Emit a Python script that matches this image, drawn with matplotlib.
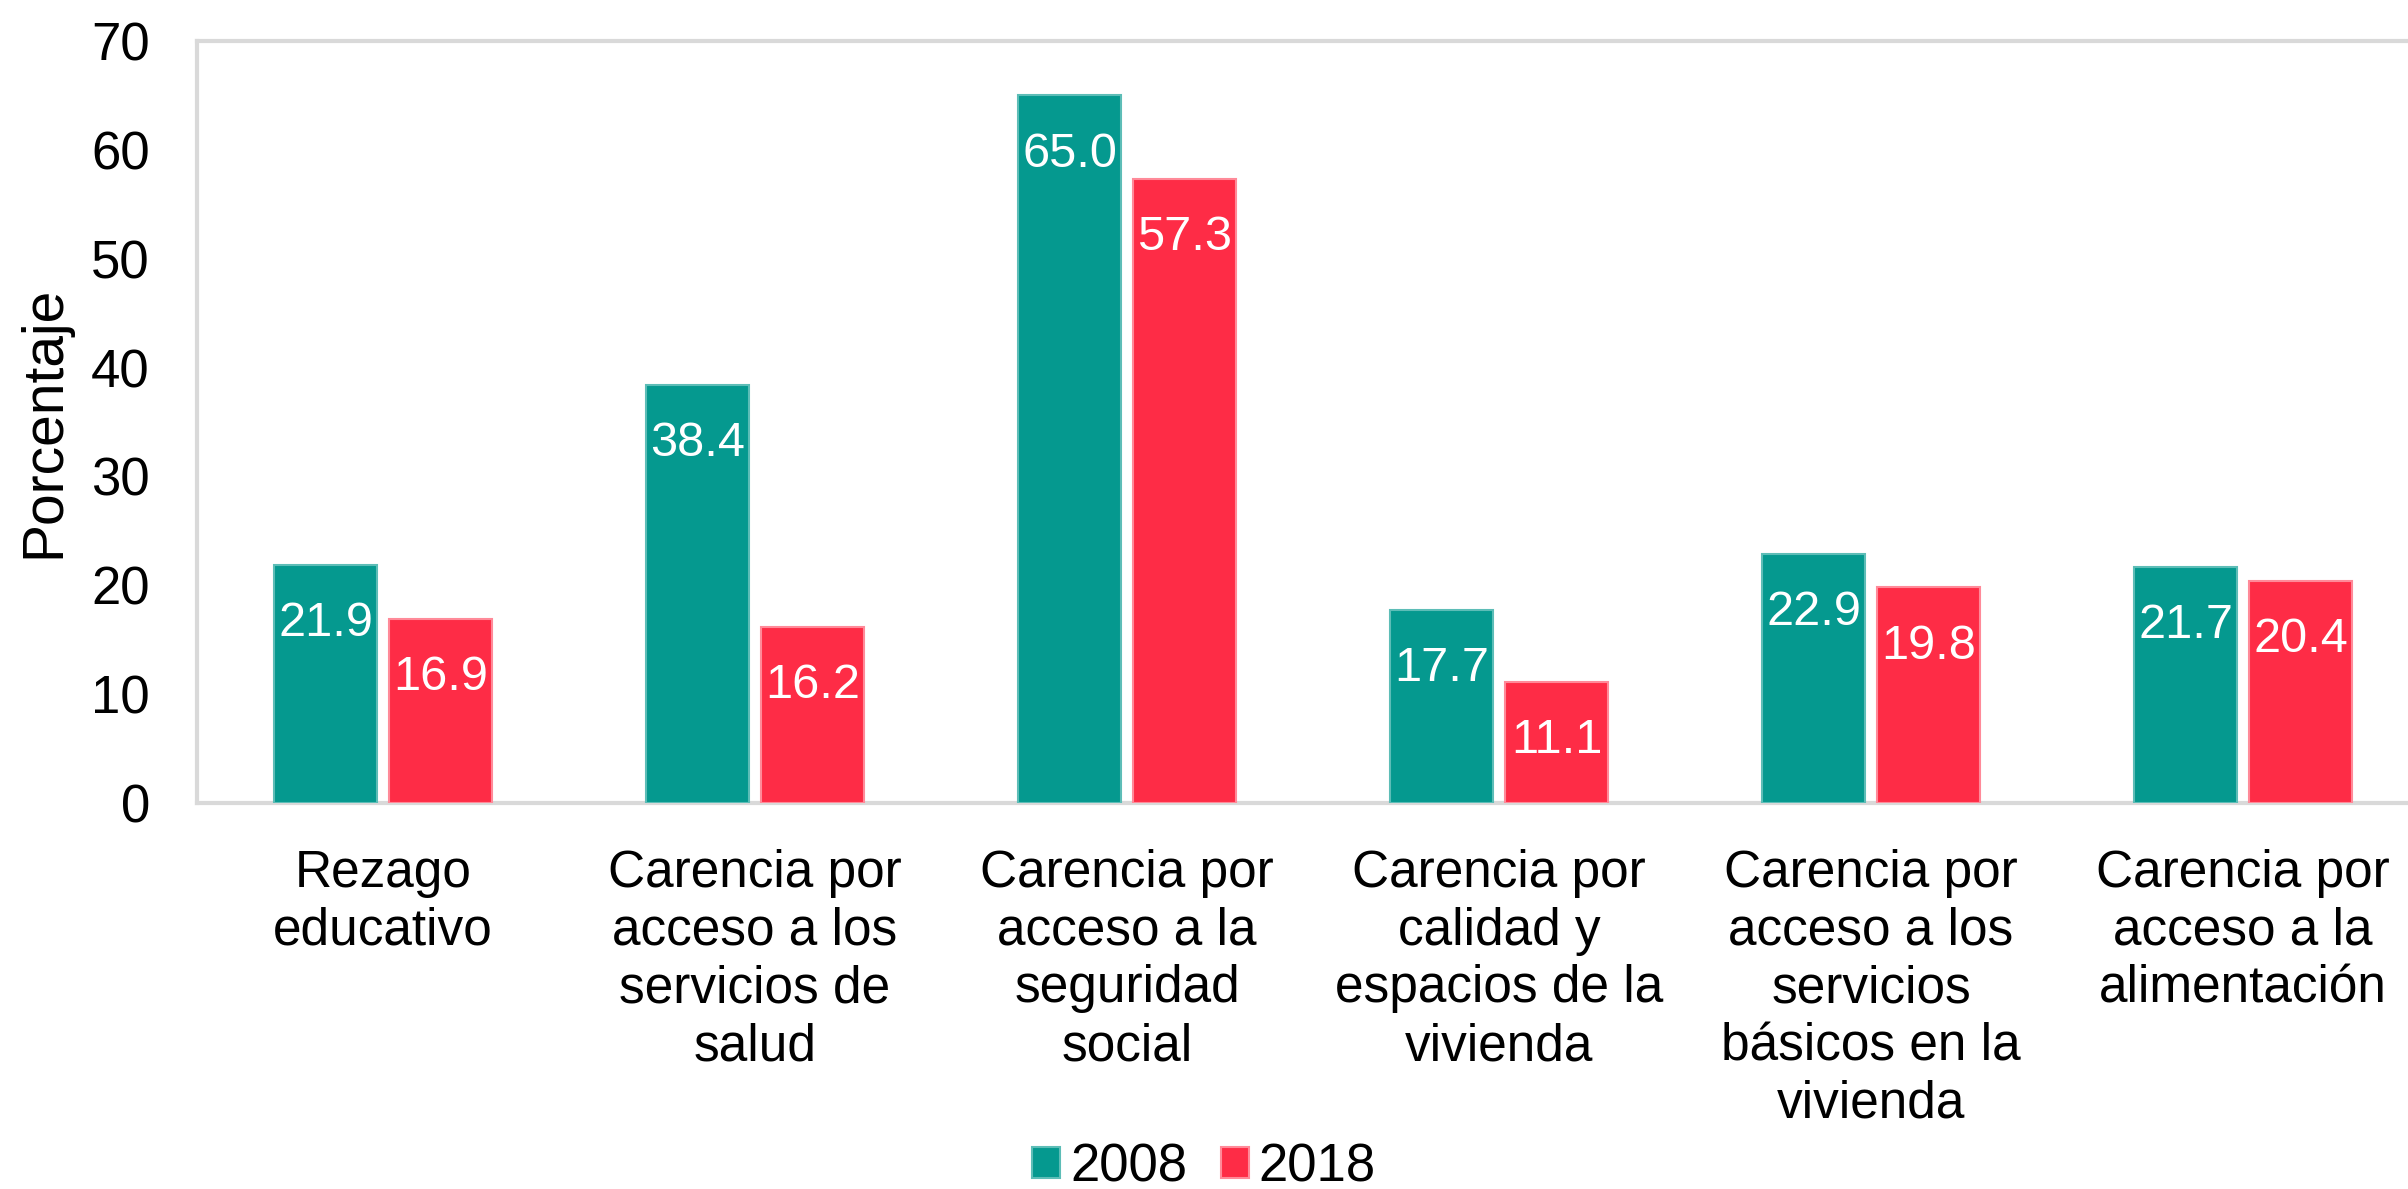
import numpy as np
import matplotlib
matplotlib.use("Agg")
import matplotlib.pyplot as plt

plt.rcParams['font.family'] = ['Liberation Sans', 'DejaVu Sans']

# data
categories = ["Rezago\neducativo",
              "Carencia por\nacceso a los\nservicios de\nsalud",
              "Carencia por\nacceso a la\nseguridad\nsocial",
              "Carencia por\ncalidad y\nespacios de la\nvivienda",
              "Carencia por\nacceso a los\nservicios\nbásicos en la\nvivienda",
              "Carencia por\nacceso a la\nalimentación"]
vals_2008 = [21.9, 38.4, 65.0, 17.7, 22.9, 21.7]
vals_2018 = [16.9, 16.2, 57.3, 11.1, 19.8, 20.4]
series_names = ["2008", "2018"]

teal = "#05998F"
red = "#FE2C46"
grid_gray = "#D9D9D9"

fig = plt.figure(figsize=(24.08, 11.89), dpi=100)
# axes runs past the right edge, as in the reference (cropped)
ax = fig.add_axes([197 / 2408, 1 - 803 / 1189, (2429 - 197) / 2408, (803 - 41) / 1189])

x = np.arange(len(categories))
w = 0.276
off = 0.1545
b1 = ax.bar(x - off, vals_2008, w, color=teal, edgecolor="#5DBDB7", linewidth=1.5, label=series_names[0], zorder=3)
b2 = ax.bar(x + off, vals_2018, w, color=red, edgecolor="#FF8A99", linewidth=1.5, label=series_names[1], zorder=3)

# value labels inside the bar tops
for bars, vals in ((b1, vals_2008), (b2, vals_2018)):
    for r, v in zip(bars, vals):
        ax.annotate(f"{v:.1f}", (r.get_x() + r.get_width() / 2, r.get_height()),
                    xytext=(0, -26), textcoords="offset points",
                    ha="center", va="top", color="white", fontsize=35, zorder=4)

ax.set_xlim(-0.5, len(categories) - 0.5)
ax.set_ylim(0, 70)
ax.set_yticks(range(0, 71, 10))
ax.set_xticks(x)
ax.set_xticklabels(categories, fontsize=37, linespacing=1.23)
ax.tick_params(axis="y", length=0, pad=34, labelsize=38)
ax.tick_params(axis="x", length=0, pad=33)

for s in ax.spines.values():
    s.set_color(grid_gray)
    s.set_linewidth(3)
    s.set_zorder(2)

ax.set_ylabel("Porcentaje", fontsize=41, labelpad=14)

fig.legend(handles=[b1, b2], labels=series_names, loc="center",
           bbox_to_anchor=(0.5, 0.018), ncol=2, frameon=False,
           fontsize=38, handlelength=0.53, handleheight=0.53, handletextpad=0.19,
           columnspacing=0.64, borderaxespad=0, borderpad=0)

fig.savefig("out.png", dpi=100)
